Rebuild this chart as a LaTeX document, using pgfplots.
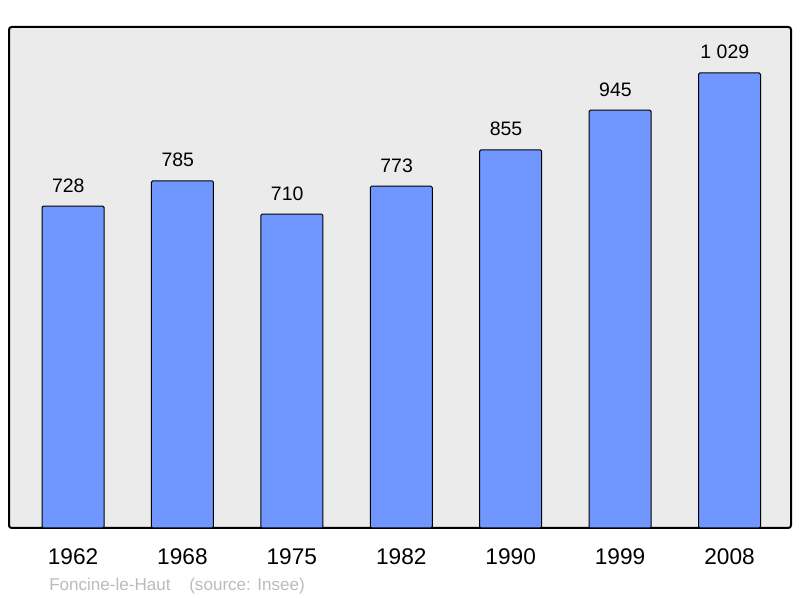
\documentclass[border=0pt]{standalone}
\usepackage{fontspec}
\setmainfont{Liberation Sans}
\usepackage{pgfplots}
\pgfplotsset{compat=1.18}
\definecolor{barblue}{HTML}{7097FF}
\definecolor{panel}{HTML}{EBEBEB}
\definecolor{foot}{HTML}{BBBBBB}
\begin{document}
\begin{tikzpicture}
\useasboundingbox (0,0) rectangle (600pt,448.5pt);
\begin{axis}[
  at={(6.75pt,52.5pt)}, anchor=south west,
  scale only axis, width=586.5pt, height=375.75pt,
  xmin=-0.585, xmax=6.562, ymin=0, ymax=1133,
  ytick=\empty, xtick=data,
  xticklabels={1962,1968,1975,1982,1990,1999,2008},
  major tick length=0pt,
  xticklabel style={font=\fontsize{17}{20}\selectfont, anchor=base, yshift=-27.75pt},
  axis background/.style={fill=panel},
  axis line style={line width=1.5pt, rounded corners=2pt},
  ybar, bar width=46.5pt,
  point meta=explicit symbolic,
  nodes near coords,
  every node near coord/.append style={font=\fontsize{14.6}{17}\selectfont, anchor=base, yshift=10.5pt, xshift=-3.5pt},
]
\addplot[fill=barblue, draw=black, line width=0.75pt, rounded corners=1pt] coordinates {
  (0,728) [728]
  (1,785) [785]
  (2,710) [710]
  (3,773) [773]
  (4,855) [855]
  (5,945) [945]
  (6,1029) [1 029]
};
\end{axis}
\node[anchor=base west, text=foot, font=\fontsize{12.8}{15}\selectfont, inner sep=0pt] at (36.75pt,5.5pt) {Foncine-le-Haut\hspace{14pt}(source: Insee)};
\end{tikzpicture}
\end{document}
